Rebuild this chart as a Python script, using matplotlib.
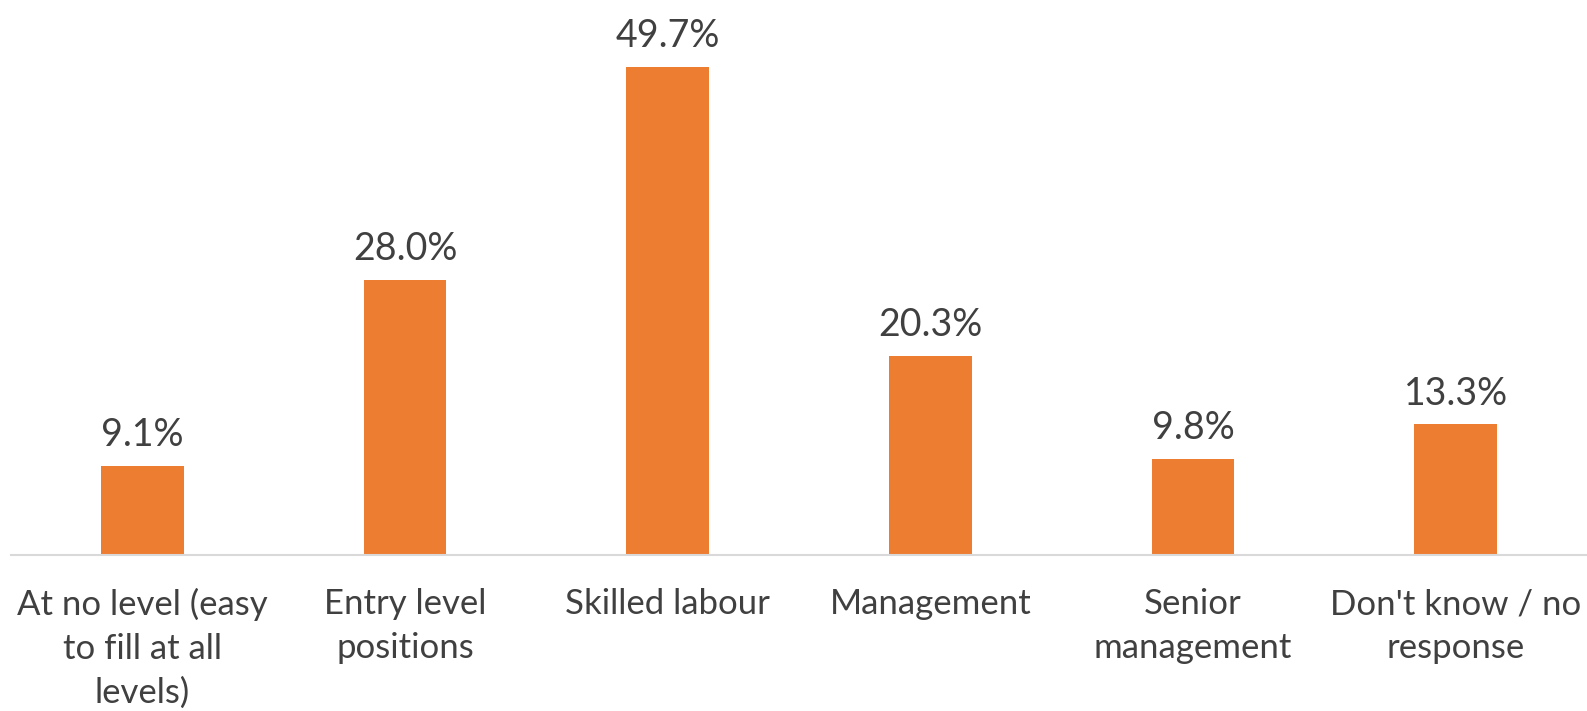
import matplotlib
matplotlib.use('Agg')
import matplotlib.pyplot as plt

plt.rcParams['font.family'] = ['Lato', 'DejaVu Sans']

categories = ['At no level (easy\nto fill at all\nlevels)', 'Entry level\npositions',
              'Skilled labour', 'Management', 'Senior\nmanagement',
              "Don't know / no\nresponse"]
values = [9.1, 28.0, 49.7, 20.3, 9.8, 13.3]

BAR_COLOR = '#ED7D31'
TEXT_COLOR = '#404040'

fig = plt.figure(figsize=(15.87, 7.11), dpi=100)
ax = fig.add_axes([11 / 1587, 156 / 711, 1 - 11 / 1587, 555 / 711])

x = range(len(values))
bars = ax.bar(x, values, width=0.315, color=BAR_COLOR)

# value labels above bars
for bar, v in zip(bars, values):
    ax.text(bar.get_x() + bar.get_width() / 2, v + 1.3, f'{v:.1f}%',
            ha='center', va='bottom', fontsize=27, color=TEXT_COLOR)

ax.set_xlim(-0.5, len(values) - 0.5)
ax.set_ylim(0, 56.5)
ax.set_xticks(list(x))
ax.set_xticklabels(categories, fontsize=25, color=TEXT_COLOR, linespacing=1.45)
ax.tick_params(axis='x', length=0, pad=24)
ax.set_yticks([])
for side in ['top', 'right', 'left']:
    ax.spines[side].set_visible(False)
ax.spines['bottom'].set_color('#D9D9D9')
ax.spines['bottom'].set_linewidth(1.5)

fig.savefig('out.png', dpi=100)
